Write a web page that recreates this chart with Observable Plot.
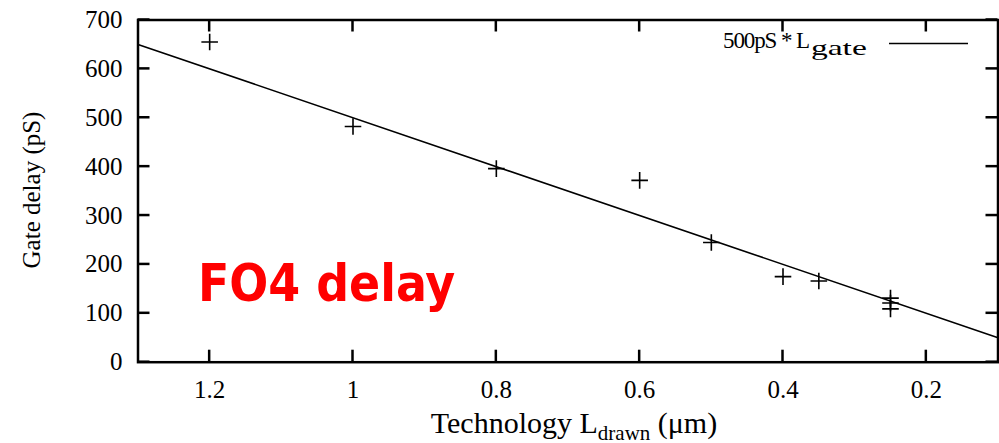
<!DOCTYPE html>
<html>
<head>
<meta charset="utf-8">
<script src="https://cdn.jsdelivr.net/npm/d3@7"></script>
<script src="https://cdn.jsdelivr.net/npm/@observablehq/plot@0.6"></script>
<style>
  html, body { margin: 0; padding: 0; background: #fff; }
  #chart { width: 999px; height: 443px; }
</style>
</head>
<body>
<div id="chart"></div>
<script>
// Measured FO4 gate delay per technology node
const techL = [1.2, 1.0, 0.8, 0.6, 0.5, 0.4, 0.35, 0.25, 0.25, 0.25];
const delayPs = [655, 482, 396, 372, 245, 175, 166, 131, 121, 109];
// Reference line: 500pS * Lgate
const fitSlope = [500];
const fitRange = [1.3, 0.1];
const xTicks = [1.2, 1.0, 0.8, 0.6, 0.4, 0.2];
const yTicks = [0, 100, 200, 300, 400, 500, 600, 700];

const points = techL.map((l, i) => ({l, d: delayPs[i]}));
const fitLine = fitRange.map(l => ({l, d: fitSlope[0] * l}));

const W = 999, H = 443;
const mL = 137.5, mR = 1.5, mT = 19.5, mB = 81.3;
const T = 12; // inward tick length
const serif = "Liberation Serif";

const plot = Plot.plot({
  width: W,
  height: H,
  marginLeft: mL,
  marginRight: mR,
  marginTop: mT,
  marginBottom: mB,
  style: {fontFamily: serif, fontSize: "25px", color: "black", background: "white", overflow: "visible"},
  x: {domain: fitRange, label: null},
  y: {domain: [0, 700], label: null},
  marks: [
    Plot.axisX({anchor: "bottom", ticks: xTicks, tickSize: 0, tickPadding: 18.5, tickFormat: d => String(d), label: null}),
    Plot.axisY({anchor: "left", ticks: yTicks, tickSize: 0, tickPadding: 15.5, tickFormat: d => String(d), label: null}),
    Plot.line(fitLine, {x: "l", y: "d", stroke: "black", strokeWidth: 1.6}),
    Plot.dot(points, {x: "l", y: "d", symbol: "plus", r: 5.4, stroke: "black", strokeWidth: 1.6}),
    Plot.frame({stroke: "black", strokeWidth: 2.5})
  ]
});

document.getElementById("chart").appendChild(plot);

const svg = d3.select(plot);
const sx = plot.scale("x"), sy = plot.scale("y");

// Inward ticks on all four sides, placed through Plot's own scales
const tickG = svg.append("g").attr("stroke", "black").attr("stroke-width", 2.5);
xTicks.forEach(v => {
  const x = sx.apply(v);
  tickG.append("line").attr("x1", x).attr("x2", x).attr("y1", H - mB).attr("y2", H - mB - T);
  tickG.append("line").attr("x1", x).attr("x2", x).attr("y1", mT).attr("y2", mT + T);
});
yTicks.forEach(v => {
  const y = sy.apply(v);
  tickG.append("line").attr("x1", mL).attr("x2", mL + T).attr("y1", y).attr("y2", y);
  tickG.append("line").attr("x1", W - mR).attr("x2", W - mR - T).attr("y1", y).attr("y2", y);
});

// Y axis label
svg.append("text")
  .attr("transform", "translate(40,190) rotate(-90)")
  .attr("text-anchor", "middle")
  .attr("font-family", serif)
  .attr("font-size", 25)
  .attr("fill", "black")
  .text("Gate delay (pS)");

// X axis label with subscript
const xl = svg.append("text")
  .attr("x", 574)
  .attr("y", 433)
  .attr("text-anchor", "middle")
  .attr("font-family", serif)
  .attr("font-size", 30)
  .attr("fill", "black");
xl.append("tspan").text("Technology L");
xl.append("tspan").attr("font-size", 21).attr("dy", 6.5).text("drawn");
xl.append("tspan").attr("dy", -6.5).text(" (\u03bcm)");

// Legend
const lg = svg.append("text")
  .attr("x", 723)
  .attr("y", 48.3)
  .attr("text-anchor", "start")
  .attr("font-family", serif)
  .attr("font-size", 23)
  .attr("fill", "black");
lg.append("tspan").attr("textLength", 87).text("500pS * L");
lg.append("tspan").attr("font-size", 22).attr("dy", 6.5).attr("dx", 2).attr("textLength", 56).attr("lengthAdjust", "spacingAndGlyphs").text("gate");
svg.append("line")
  .attr("x1", 889).attr("x2", 968)
  .attr("y1", 43.5).attr("y2", 43.5)
  .attr("stroke", "black").attr("stroke-width", 1.6);

// Annotation
svg.append("text")
  .attr("x", 198)
  .attr("y", 300.7)
  .attr("text-anchor", "start")
  .attr("font-family", "'DejaVu Sans Condensed', 'DejaVu Sans', sans-serif")
  .attr("font-stretch", "condensed")
  .attr("font-weight", "bold")
  .attr("font-size", 51)
  .attr("fill", "#ff0000")
  .text("FO4 delay");
</script>
</body>
</html>
